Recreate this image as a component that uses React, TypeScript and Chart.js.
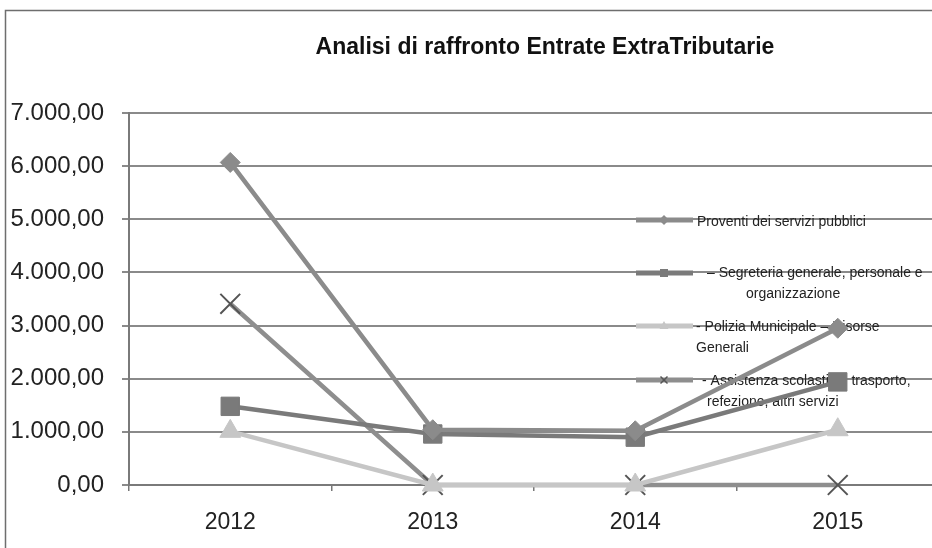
import React, { useEffect, useRef } from "react";
import { Chart, registerables } from "chart.js";

Chart.register(...registerables);

const title = "Analisi di raffronto Entrate ExtraTributarie";
const years = ["2012", "2013", "2014", "2015"];
const proventi = [6070, 1040, 1020, 2950];
const segreteria = [1480, 960, 900, 1940];
const polizia = [1010, 0, 0, 1040];
const assistenza = [3410, 0, 0, 0];
const seriesNames = [
  "Proventi dei servizi pubblici",
  "– Segreteria generale, personale e organizzazione",
  "- Polizia Municipale – Risorse Generali",
  "- Assistenza scolastica, trasporto, refezione, altri servizi",
];
const legendLines = [
  ["Proventi dei servizi pubblici"],
  ["– Segreteria generale, personale e", "organizzazione"],
  ["- Polizia Municipale – Risorse", "Generali"],
  ["- Assistenza scolastica, trasporto,", "refezione, altri servizi"],
];
const yMax = 7000;
const yStep = 1000;

const fmt = (v: number) => {
  const fixed = Math.abs(v).toFixed(2);
  const [int, dec] = fixed.split(".");
  const withDots = int.replace(/\B(?=(\d{3})+(?!\d))/g, ".");
  return (v < 0 ? "-" : "") + withDots + "," + dec;
};

const FONT = "'Liberation Sans', Arial, sans-serif";

function drawMarker(ctx: CanvasRenderingContext2D, style: string, x: number, y: number, r: number, fill: string, stroke: string) {
  ctx.save();
  ctx.fillStyle = fill;
  ctx.strokeStyle = stroke;
  ctx.lineWidth = 1.5;
  ctx.beginPath();
  if (style === "rectRot") {
    ctx.moveTo(x, y - r);
    ctx.lineTo(x + r, y);
    ctx.lineTo(x, y + r);
    ctx.lineTo(x - r, y);
    ctx.closePath();
    ctx.fill();
  } else if (style === "rect") {
    ctx.rect(x - r * 0.8, y - r * 0.8, r * 1.6, r * 1.6);
    ctx.fill();
  } else if (style === "triangle") {
    ctx.moveTo(x, y - r);
    ctx.lineTo(x + r * 0.9, y + r * 0.6);
    ctx.lineTo(x - r * 0.9, y + r * 0.6);
    ctx.closePath();
    ctx.fill();
  } else {
    ctx.moveTo(x - r * 0.7, y - r * 0.7);
    ctx.lineTo(x + r * 0.7, y + r * 0.7);
    ctx.moveTo(x + r * 0.7, y - r * 0.7);
    ctx.lineTo(x - r * 0.7, y + r * 0.7);
    ctx.stroke();
  }
  ctx.restore();
}

export default function App() {
  const ref = useRef<HTMLCanvasElement | null>(null);
  useEffect(() => {
    if (!ref.current) return;
    const colors = ["#8b8b8b", "#7a7a7a", "#c6c6c6", "#8e8e8e"];
    const styles = ["rectRot", "rect", "triangle", "crossRot"];
    const radii = [10, 13, 12, 14];

    const legendRows = [
      { y: 220, lines: [{ x: 697, y: 222 }] },
      { y: 273, lines: [{ x: 707, y: 273 }, { x: 746, y: 294 }] },
      { y: 326, lines: [{ x: 696, y: 327 }, { x: 696, y: 348 }] },
      { y: 380, lines: [{ x: 702, y: 381 }, { x: 707, y: 402 }] },
    ];

    const decor = {
      id: "decor",
      beforeDatasetsDraw(chart: any) {
        const ctx = chart.ctx;
        ctx.save();
        ctx.strokeStyle = "#6e6e6e";
        ctx.lineWidth = 1.5;
        ctx.beginPath();
        ctx.moveTo(5.5, 560);
        ctx.lineTo(5.5, 10.5);
        ctx.lineTo(960, 10.5);
        ctx.stroke();
        ctx.fillStyle = "#111";
        ctx.font = `bold 23px ${FONT}`;
        ctx.textAlign = "center";
        ctx.textBaseline = "middle";
        ctx.fillText(title, 545, 48);
        ctx.textAlign = "left";
        ctx.font = `14px ${FONT}`;
        legendRows.forEach((row, i) => {
          ctx.strokeStyle = colors[i];
          ctx.lineWidth = 5;
          ctx.beginPath();
          ctx.moveTo(636, row.y);
          ctx.lineTo(693, row.y);
          ctx.stroke();
          drawMarker(ctx, styles[i], 664, row.y, 5, colors[i], i === 3 ? "#555" : colors[i]);
          ctx.fillStyle = "#222";
          legendLines[i].forEach((t, j) => {
            ctx.fillText(t, row.lines[j].x, row.lines[j].y);
          });
        });
        ctx.restore();
      },
    };

    const mk = (label: string, data: number[], i: number) => ({
      label,
      data,
      borderColor: colors[i],
      backgroundColor: colors[i],
      borderWidth: 4.5,
      pointStyle: styles[i],
      pointRadius: radii[i],
      pointBackgroundColor: colors[i],
      pointBorderColor: i === 3 ? "#555" : colors[i],
      pointBorderWidth: i === 3 ? 2 : 1,
      tension: 0,
      clip: false,
    });

    const chart = new Chart(ref.current, {
      type: "line",
      data: {
        labels: years,
        datasets: [
          mk(seriesNames[0], proventi, 0),
          mk(seriesNames[1], segreteria, 1),
          mk(seriesNames[2], polizia, 2),
          mk(seriesNames[3], assistenza, 3),
        ],
      },
      options: {
        animation: false,
        responsive: false,
        maintainAspectRatio: false,
        layout: { autoPadding: false, padding: { left: 0, top: 113, right: 1, bottom: 0 } },
        plugins: {
          legend: { display: false },
          title: { display: false },
          tooltip: { enabled: false },
        },
        scales: {
          x: {
            offset: true,
            grid: {
              offset: true,
              drawOnChartArea: false,
              drawTicks: true,
              tickLength: 6,
              color: "#777",
              lineWidth: 1.5,
            },
            border: { display: true, color: "#7a7a7a", width: 2 },
            ticks: {
              color: "#222",
              font: { family: FONT, size: 23 },
              padding: 18,
              maxRotation: 0,
            },
            afterFit: (s: any) => {
              s.height = 63;
              s.paddingLeft = 0;
              s.paddingRight = 0;
            },
          },
          y: {
            min: 0,
            max: yMax,
            grid: {
              color: "#8a8a8a",
              lineWidth: 2,
              drawTicks: true,
              tickLength: 7,
            },
            border: { display: true, color: "#7a7a7a", width: 2 },
            ticks: {
              stepSize: yStep,
              color: "#222",
              font: { family: FONT, size: 24 },
              padding: 18,
              callback: (v: any) => fmt(Number(v)),
            },
            afterFit: (s: any) => {
              s.width = 129;
              s.paddingTop = 0;
              s.paddingBottom = 0;
            },
          },
        },
      },
      plugins: [decor],
    });
    return () => chart.destroy();
  }, []);

  return (
    <div style={{ position: "fixed", left: 0, top: 0, width: 940, height: 548, background: "#fff" }}>
      <canvas ref={ref} width={940} height={548} style={{ width: 940, height: 548, display: "block" }} />
    </div>
  );
}
